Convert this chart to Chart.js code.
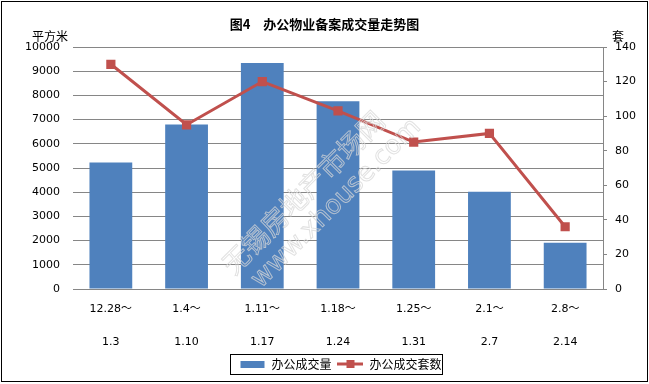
<!DOCTYPE html>
<html>
<head>
<meta charset="utf-8">
<script src="https://cdn.jsdelivr.net/npm/chart.js@4"></script>
<style>
  body { margin: 0; background: #fff; }
  canvas { display: block; }
</style>
</head>
<body>
<canvas id="officeChart" width="649" height="384"></canvas>
<script>
// ─── Data ─────────────────────────────────────────────────────────
const weekStarts = ['12.28～', '1.4～', '1.11～', '1.18～', '1.25～', '2.1～', '2.8～'];
const weekEnds   = ['1.3', '1.10', '1.17', '1.24', '1.31', '2.7', '2.14'];
const areaSold   = [5230, 6800, 9340, 7760, 4900, 4020, 1910];   // 平方米
const unitsSold  = [130, 95, 120, 103, 85, 90, 36];              // 套
const areaTicks  = { min: 0, max: 10000, step: 1000 };
const unitTicks  = { min: 0, max: 140, step: 20 };

const BLUE = '#4F81BD';
const RED  = '#C0504D';
const GRID = '#868686';
const CJK  = "'Noto Sans CJK SC', sans-serif";
const NUM  = "'DejaVu Sans', 'Noto Sans CJK SC', sans-serif";

// legend glyphs, drawn the way the office chart shows them
function legendIcon(kind) {
    const c = document.createElement('canvas');
    c.width = 26; c.height = 10;
    const g = c.getContext('2d');
    if (kind === 'bar') {
        g.fillStyle = BLUE;
        g.fillRect(1, 2, 24, 7);
    } else {
        g.strokeStyle = RED;
        g.lineWidth = 3;
        g.beginPath(); g.moveTo(0, 5); g.lineTo(26, 5); g.stroke();
        g.fillStyle = RED;
        g.fillRect(9, 1, 8, 8);
    }
    return c;
}
const icons = [legendIcon('line'), legendIcon('bar')];

// ─── Extras: background, frame, unit captions, watermark, legend box ──
const decorations = {
    id: 'decorations',
    beforeDraw(chart) {
        const ctx = chart.ctx;
        ctx.save();
        ctx.fillStyle = '#fff';
        ctx.fillRect(0, 0, chart.width, chart.height);
        ctx.restore();
    },
    afterLayout(chart) {
        // the legend sits a little right of centre in the original
        chart.legend.left += 16;
        chart.legend.right += 16;
    },
    afterDatasetsDraw(chart) {
        const ctx = chart.ctx;
        ctx.save();
        ctx.translate(234, 276);
        ctx.rotate(-Math.PI / 4);
        ctx.strokeStyle = 'rgba(215,215,215,0.75)';
        ctx.lineWidth = 1;
        ctx.textBaseline = 'alphabetic';
        ctx.font = "27px " + CJK;
        ctx.strokeText('无锡房地产市场网', 0, 0);
        ctx.font = "26px 'DejaVu Sans', sans-serif";
        ctx.strokeText('www.xhouse.com', 10, 28);
        ctx.restore();
    },
    afterDraw(chart) {
        const ctx = chart.ctx;
        const y = chart.scales.y;
        const y1 = chart.scales.y1;
        ctx.save();
        ctx.fillStyle = '#000';
        ctx.font = "12px " + CJK;
        ctx.textBaseline = 'middle';
        ctx.textAlign = 'center';
        ctx.fillText('平方米', 50, y.top - 11);
        ctx.fillText('套', y1.left + 15, y1.top - 11);

        // legend frame
        const boxes = chart.legend.legendHitBoxes;
        if (boxes.length) {
            const first = boxes[0], last = boxes[boxes.length - 1];
            const l = Math.round(first.left - 9) + 0.5;
            const r = Math.round(last.left + last.width) + 0.5;
            const t = Math.round(first.top - 4) + 0.5;
            const b = Math.round(first.top + first.height + 4) + 0.5;
            ctx.strokeStyle = '#000';
            ctx.lineWidth = 1;
            ctx.strokeRect(l, t, r - l, b - t);
        }

        // outer frame
        ctx.strokeStyle = '#000';
        ctx.lineWidth = 1;
        ctx.strokeRect(1.5, 1.5, chart.width - 3, chart.height - 4);
        ctx.restore();
    }
};

new Chart(document.getElementById('officeChart'), {
    type: 'bar',
    data: {
        labels: weekStarts.map((s, i) => [s, weekEnds[i]]),
        datasets: [
            {
                type: 'line',
                label: '办公成交套数',
                data: unitsSold,
                yAxisID: 'y1',
                borderColor: RED,
                borderWidth: 3,
                backgroundColor: RED,
                pointStyle: 'rect',
                pointRadius: 6.5,
                pointBackgroundColor: RED,
                pointBorderColor: RED,
                pointBorderWidth: 0,
                tension: 0
            },
            {
                type: 'bar',
                label: '办公成交量',
                data: areaSold,
                yAxisID: 'y',
                backgroundColor: BLUE,
                barPercentage: 0.565,
                categoryPercentage: 1
            }
        ]
    },
    options: {
        responsive: false,
        animation: false,
        layout: { padding: { left: 0, right: 0, top: 0, bottom: 4 } },
        plugins: {
            title: {
                display: true,
                text: '图4\u3000办公物业备案成交量走势图',
                color: '#000',
                font: { family: CJK, size: 13, weight: 'bold', lineHeight: 1.2 },
                padding: { top: 16, bottom: 15.4 }
            },
            legend: {
                position: 'bottom',
                labels: {
                    usePointStyle: true,
                    pointStyleWidth: 26,
                    padding: 6,
                    color: '#000',
                    font: { family: CJK, size: 12 },
                    generateLabels: chart => [1, 0].map(i => ({
                        text: chart.data.datasets[i].label,
                        pointStyle: icons[i],
                        datasetIndex: i,
                        hidden: false,
                        fontColor: '#000',
                        lineWidth: 0,
                        strokeStyle: 'transparent',
                        fillStyle: 'transparent'
                    }))
                }
            },
            tooltip: { enabled: false }
        },
        scales: {
            x: {
                grid: { display: false, drawTicks: false },
                border: { display: false },
                ticks: {
                    color: '#000',
                    padding: 4,
                    maxRotation: 0,
                    autoSkip: false,
                    font: { family: NUM, size: 11, lineHeight: 3 }
                },
                afterFit: s => { s.height = 63; }
            },
            y: {
                position: 'left',
                min: areaTicks.min,
                max: areaTicks.max,
                grid: { color: GRID, drawTicks: false },
                border: { display: false },
                ticks: {
                    stepSize: areaTicks.step,
                    color: '#000',
                    padding: 13,
                    font: { family: NUM, size: 11 },
                    callback: v => String(v)
                },
                afterFit: s => { s.width = 73; }
            },
            y1: {
                position: 'right',
                min: unitTicks.min,
                max: unitTicks.max,
                grid: { drawOnChartArea: false, drawTicks: true, tickLength: 4, color: GRID },
                border: { display: true, color: GRID },
                ticks: {
                    stepSize: unitTicks.step,
                    color: '#000',
                    padding: 8,
                    font: { family: NUM, size: 11 },
                    callback: v => String(v)
                },
                afterFit: s => { s.width = 46; }
            }
        }
    },
    plugins: [decorations]
});
</script>
</body>
</html>
